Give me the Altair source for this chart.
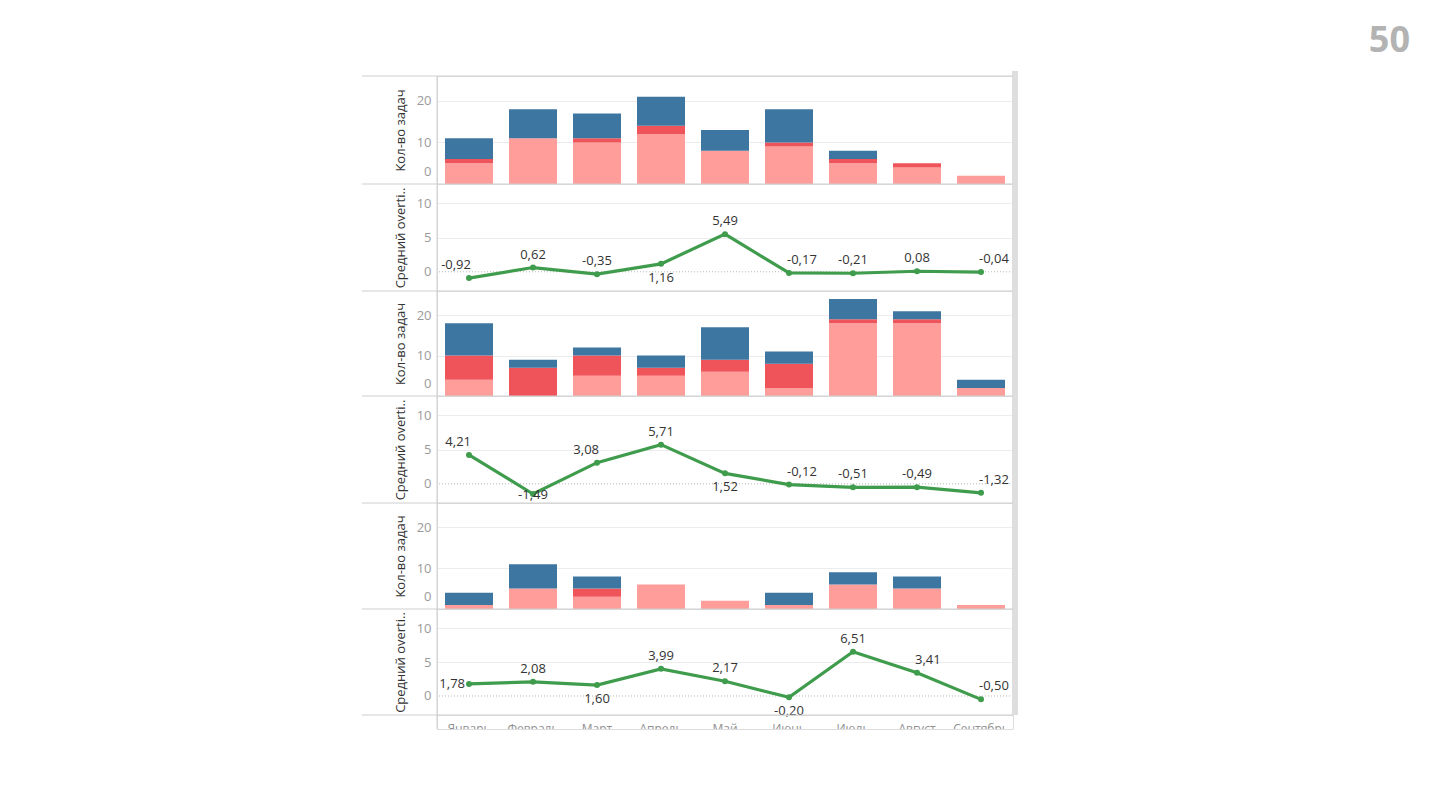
import altair as alt
import pandas as pd

months = ["Январь", "Февраль", "Март", "Апрель", "Май", "Июнь", "Июль", "Август", "Сентябрь"]
segments = ["Сегмент 1", "Сегмент 2", "Сегмент 3"]
seg_colors = ["#ff9d9a", "#ef545b", "#3c76a1"]

g1_pink = [5, 11, 10, 12, 8, 9, 5, 4, 2]
g1_red = [1, 0, 1, 2, 0, 1, 1, 1, 0]
g1_blue = [5, 7, 6, 7, 5, 8, 2, 0, 0]

g2_pink = [4, 0, 5, 5, 6, 2, 18, 18, 2]
g2_red = [6, 7, 5, 2, 3, 6, 1, 1, 0]
g2_blue = [8, 2, 2, 3, 8, 3, 5, 2, 2]

g3_pink = [1, 5, 3, 6, 2, 1, 6, 5, 1]
g3_red = [0, 0, 2, 0, 0, 0, 0, 0, 0]
g3_blue = [3, 6, 3, 0, 0, 3, 3, 3, 0]

avg1 = [-0.92, 0.62, -0.35, 1.16, 5.49, -0.17, -0.21, 0.08, -0.04]
avg2 = [4.21, -1.49, 3.08, 5.71, 1.52, -0.12, -0.51, -0.49, -1.32]
avg3 = [1.78, 2.08, 1.60, 3.99, 2.17, -0.20, 6.51, 3.41, -0.50]

pos1 = ["aboveleft", "above", "above", "below", "above", "aboveright", "above", "above", "aboveright"]
pos2 = ["aboveleft", "center", "aboveleft", "above", "below", "aboveright", "above", "above", "aboveright"]
pos3 = ["left", "above", "below", "above", "above", "below", "above", "aboveright", "aboveright"]

bar_title = "Кол-во задач"
line_title = "Средний overti.."
page_number = ["50"]

W = 576
GREEN = "#3f9c4d"
SEP = "#cfcfcf"
FONT = "Open Sans"

one = pd.DataFrame({"k": [0]})


def frame_layers(h, first=False):
    top = -5 if first else 0
    sep = alt.Chart(one).mark_rule(color=SEP, strokeWidth=1).encode(
        x=alt.value(-75), x2=alt.value(W), y=alt.value(0))
    vline = alt.Chart(one).mark_rule(color=SEP, strokeWidth=1).encode(
        x=alt.value(0), y=alt.value(0), y2=alt.value(h))
    sbar = alt.Chart(one).mark_rect(color="#dedede").encode(
        x=alt.value(W - 1), x2=alt.value(W + 5), y=alt.value(top), y2=alt.value(h))
    return [sbar, sep, vline]


def y_axis(values, title, grid_color, flush):
    kw = dict(values=values, title=title, grid=True, gridColor=grid_color,
              domain=False, ticks=False,
              labelColor="#9a9a9a", labelFontSize=13, labelFont=FONT, labelPadding=6,
              titleFont=FONT, titleFontSize=13, titleFontWeight="normal",
              titleColor="#333333", titlePadding=9)
    if flush:
        kw.update(labelFlush=True, labelFlushOffset=-6)
    return alt.Axis(**kw)


def bar_panel(pink, red, blue, h, first=False):
    rows = []
    for i, m in enumerate(months):
        for j, vals in enumerate([pink, red, blue]):
            rows.append({"month": m, "seg": segments[j], "ord": j, "value": vals[i]})
    df = pd.DataFrame(rows)
    bars = alt.Chart(df).mark_bar().encode(
        x=alt.X("month:N", sort=months, axis=None,
                scale=alt.Scale(paddingInner=0.25, paddingOuter=0.125)),
        y=alt.Y("value:Q", stack="zero", scale=alt.Scale(domain=[0, 26], nice=False),
                axis=y_axis([0, 10, 20], bar_title, "#ececec", True)),
        color=alt.Color("seg:N", scale=alt.Scale(domain=segments, range=seg_colors), legend=None),
        order=alt.Order("ord:Q"),
    )
    layers = [bars] + frame_layers(h, first)
    if first:
        pn = alt.Chart(pd.DataFrame({"t": page_number})).mark_text(
            fontSize=36, fontWeight="bold", color="#b3b3b3", align="right",
            baseline="middle", font=FONT).encode(
            x=alt.value(1410 - 437), y=alt.value(-35), text="t:N")
        layers.append(pn)
    return alt.layer(*layers).properties(width=W, height=h)


POS = {
    "above": dict(align="center", dx=0, dy=-13),
    "below": dict(align="center", dx=0, dy=14),
    "center": dict(align="center", dx=0, dy=1),
    "aboveleft": dict(align="right", dx=2, dy=-13),
    "aboveright": dict(align="left", dx=-2, dy=-13),
    "left": dict(align="right", dx=-4, dy=0),
}


def line_panel(vals, pos, h):
    df = pd.DataFrame({
        "month": months,
        "v": vals,
        "lbl": [f"{v:.2f}".replace(".", ",") for v in vals],
        "pos": pos,
    })
    xenc = alt.X("month:N", sort=months, axis=None, scale=alt.Scale(type="point", padding=0.5))
    grid_color = alt.condition("datum.value === 0", alt.value("transparent"), alt.value("#ececec"))
    yenc = alt.Y("v:Q", scale=alt.Scale(domain=[-2.8, 12.8], nice=False),
                 axis=y_axis([0, 5, 10], line_title, grid_color, False))
    base = alt.Chart(df).encode(x=xenc, y=yenc)
    zero = alt.Chart(one).mark_rule(color="#b8b8b8", strokeDash=[1, 2], strokeWidth=1).encode(
        y=alt.datum(0))
    line = base.mark_line(color=GREEN, strokeWidth=3.2)
    pts = base.mark_point(color=GREEN, filled=True, size=36, opacity=1)
    texts = []
    for key, p in POS.items():
        if key in pos:
            texts.append(base.transform_filter(alt.datum.pos == key).mark_text(
                font=FONT, fontSize=13, color="#333333", baseline="middle", **p
            ).encode(text="lbl:N"))
    layers = [zero, line, pts] + texts + frame_layers(h)
    return alt.layer(*layers).properties(width=W, height=h)


def label_strip(h):
    df = pd.DataFrame({"month": months})
    txt = alt.Chart(df).mark_text(clip=True, baseline="top", fontSize=12, font=FONT,
                                  color="#8f8f8f").encode(
        x=alt.X("month:N", sort=months, axis=None, scale=alt.Scale(type="point", padding=0.5)),
        y=alt.value(9), text="month:N")
    sep = alt.Chart(one).mark_rule(color=SEP, strokeWidth=1).encode(
        x=alt.value(-75), x2=alt.value(W), y=alt.value(0))
    vline = alt.Chart(one).mark_rule(color=SEP, strokeWidth=1).encode(
        x=alt.value(0), y=alt.value(0), y2=alt.value(h))
    return alt.layer(txt, sep, vline).properties(width=W, height=h)


panels = [
    bar_panel(g1_pink, g1_red, g1_blue, 108, first=True),
    line_panel(avg1, pos1, 107),
    bar_panel(g2_pink, g2_red, g2_blue, 105),
    line_panel(avg2, pos2, 107),
    bar_panel(g3_pink, g3_red, g3_blue, 106),
    line_panel(avg3, pos3, 106),
    label_strip(14),
]

chart = alt.vconcat(*panels, spacing=0, bounds="flush").resolve_scale(
    x="independent", y="independent", color="independent"
).properties(
    padding={"left": 353, "top": 14, "right": 10, "bottom": 10}
).configure_view(strokeWidth=0).configure(font=FONT, background="white")

chart.save("out.html", embed_options={"renderer": "svg", "actions": False})
